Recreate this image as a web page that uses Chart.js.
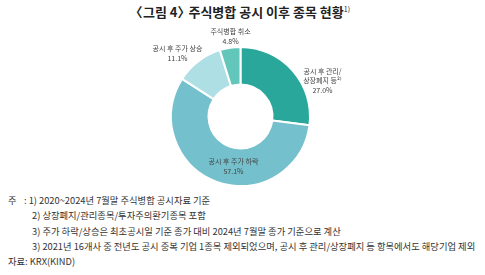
<!DOCTYPE html>
<html>
<head>
<meta charset="utf-8">
<script src="https://cdn.jsdelivr.net/npm/chart.js@4"></script>
<style>
  body { margin: 0; width: 485px; height: 275px; background: #fff; position: relative; overflow: hidden;
         font-family: "Noto Sans CJK KR", sans-serif; color: #333; }
  #title { position: absolute; top: 2px; left: 0; width: 485px; text-align: center;
           font-size: 13px; font-weight: bold; color: #222; }
  #title sup { font-size: 7px; font-weight: normal; }
  #title .br { display: inline-block; width: 8px; overflow: visible; white-space: nowrap; }
  #wrap { position: absolute; left: 100px; top: 20px; width: 281px; height: 172px; }
  .note { position: absolute; font-size: 9.3px; white-space: nowrap; color: #333; }
</style>
</head>
<body>
<div id="title"><span class="br" style="text-indent:-6px">〈</span>그림 4<span class="br">〉</span> 주식병합 공시 이후 종목 현황<sup>1)</sup></div>
<div id="wrap"><canvas id="chart1"></canvas></div>
<div class="note" style="left:8px;top:193px">주</div>
<div class="note" style="left:24px;top:193px">: 1) 2020~2024년 7월말 주식병합 공시자료 기준</div>
<div class="note" style="left:32px;top:208px">2) 상장폐지/관리종목/투자주의환기종목 포함</div>
<div class="note" style="left:32px;top:224px">3) 주가 하락/상승은 최초공시일 기준 종가 대비 2024년 7월말 종가 기준으로 계산</div>
<div class="note" style="left:32px;top:239px">3) 2021년 16개사 중 전년도 공시 중복 기업 1종목 제외되었으며, 공시 후 관리/상장폐지 등 항목에서도 해당기업 제외</div>
<div class="note" style="left:8px;top:254px">자료: KRX(KIND)</div>
<script>
// data
const categories = [["공시 후 관리/", "상장폐지 등²⁾"], ["공시 후 주가 하락"], ["공시 후 주가 상승"], ["주식병합 취소"]];
const shares = [27.0, 57.1, 11.1, 4.8];
const colors = ["#2AA79B", "#74C0CC", "#AEDFE5", "#62C6BB"];
// label offsets from the doughnut centre
const labelPos = [[82, -36], [-7, 50], [-63, -63], [-10, -80]];

const labelPlugin = {
	id: 'sliceLabels',
	afterDatasetsDraw(chart) {
		const ctx = chart.ctx;
		const arcs = chart.getDatasetMeta(0).data;
		ctx.save();
		ctx.font = '7px "Noto Sans CJK KR"';
		ctx.fillStyle = '#444';
		ctx.textAlign = 'center';
		ctx.textBaseline = 'middle';
		arcs.forEach((arc, i) => {
			const lines = categories[i].concat([shares[i].toFixed(1) + '%']);
			const cx = arc.x + labelPos[i][0];
			const cy = arc.y + labelPos[i][1];
			const top = cy - (lines.length - 1) * 9.5 / 2;
			lines.forEach((t, j) => ctx.fillText(t, cx, top + j * 9.5));
		});
		ctx.restore();
	}
};

new Chart(document.getElementById('chart1'), {
	type: 'doughnut',
	data: {
		labels: categories.map(c => c.join('')),
		datasets: [{
			data: shares,
			backgroundColor: colors,
			borderColor: '#fff',
			borderWidth: 2
		}]
	},
	options: {
		responsive: true,
		maintainAspectRatio: false,
		animation: false,
		cutout: '46%',
		layout: { padding: { left: 70, right: 70, top: 26, bottom: 5 } },
		plugins: { legend: { display: false }, tooltip: { enabled: false } }
	},
	plugins: [labelPlugin]
});
</script>
</body>
</html>
